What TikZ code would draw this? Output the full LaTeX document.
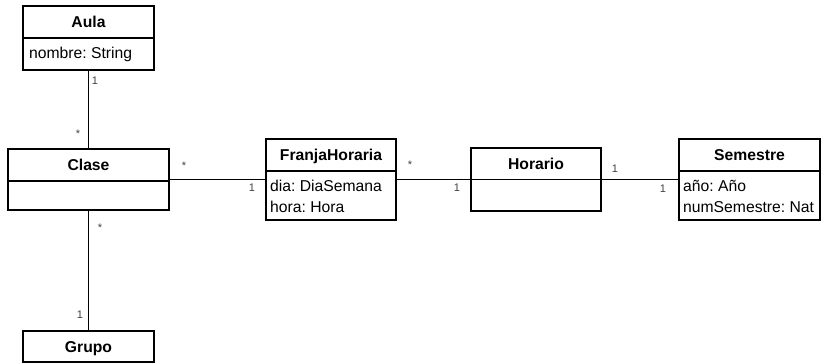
\documentclass[tikz,border=0pt]{standalone}
\usepackage{fontspec}
\setmainfont{Liberation Sans}
\usetikzlibrary{positioning}
\frenchspacing

\begin{document}
\begin{tikzpicture}[x=1pt,y=-1pt,
  classbox/.style={draw,line width=1.3pt,inner sep=0pt},
  classtitle/.style={font=\fontsize{15.7}{21}\selectfont\bfseries,text height=11.3pt,text depth=0pt,inner sep=0pt},
  classattr/.style={font=\fontsize{15.7}{21}\selectfont,align=left,anchor=north west,inner sep=0pt,xshift=4pt},
  divider/.style={line width=1.3pt},
  assoc/.style={line width=1.3pt},
  mult/.style={font=\fontsize{11}{13}\selectfont,text=black!75,inner sep=0pt}
]
  \useasboundingbox (0,0) rectangle (821,363);

  % classes
  \node[classbox,minimum width=131pt,minimum height=64pt] (aula) at (88.5,38) {};
  \node[classtitle] (aulatitle) at (88.5,22) {Aula};
  \draw[divider] (aula.west |- 0,38) -- (aula.east |- 0,38);
  \node[classattr,xshift=2pt] (aulaattr) at (23,47) {nombre: String};

  \node[classbox,minimum width=161pt,minimum height=61pt] (clase) at (88.5,179.5) {};
  \node[classtitle] (clasetitle) at (88.5,165) {Clase};
  \draw[divider] (clase.west |- 0,181) -- (clase.east |- 0,181);

  \node[classbox,minimum width=131pt,minimum height=31pt] (grupo) at (88.5,346.5) {};
  \node[classtitle] (grupotitle) at (88.5,346.5) {Grupo};

  \node[classbox,minimum width=130pt,minimum height=81pt] (franja) at (331,179.5) {};
  \node[classtitle] (franjatitle) at (331,155) {FranjaHoraria};
  \draw[divider] (franja.west |- 0,171) -- (franja.east |- 0,171);
  \node[classattr] (franjaattr) at (266,180) {dia: DiaSemana\\hora: Hora};

  \node[classbox,minimum width=130pt,minimum height=63pt] (horario) at (536,179.5) {};
  \node[classtitle] (horariotitle) at (536,163.5) {Horario};
  \draw[divider] (horario.west |- 0,179.5) -- (horario.east |- 0,179.5);

  \node[classbox,minimum width=141pt,minimum height=81pt] (semestre) at (749.5,179.5) {};
  \node[classtitle] (semestretitle) at (749.5,155) {Semestre};
  \draw[divider] (semestre.west |- 0,171) -- (semestre.east |- 0,171);
  \node[classattr] (semestreattr) at (679,180) {año: Año\\numSemestre: Nat};

  % associations
  \draw[assoc] (aula) -- (clase);
  \draw[assoc] (clase) -- (grupo);
  \draw[assoc] (clase) -- (franja);
  \draw[assoc] (franja) -- (horario);
  \draw[assoc] (horario) -- (semestre);

  % multiplicities
  \node[mult] (m1) at (95,81) {1};
  \node[mult] (m2) at (78,134) {*};
  \node[mult] (m3) at (100,228) {*};
  \node[mult] (m4) at (80,315) {1};
  \node[mult] (m5) at (184,166) {*};
  \node[mult] (m6) at (252,188) {1};
  \node[mult] (m7) at (410,165) {*};
  \node[mult] (m8) at (457,188) {1};
  \node[mult] (m9) at (615,169) {1};
  \node[mult] (m10) at (663,189) {1};
\end{tikzpicture}
\end{document}
